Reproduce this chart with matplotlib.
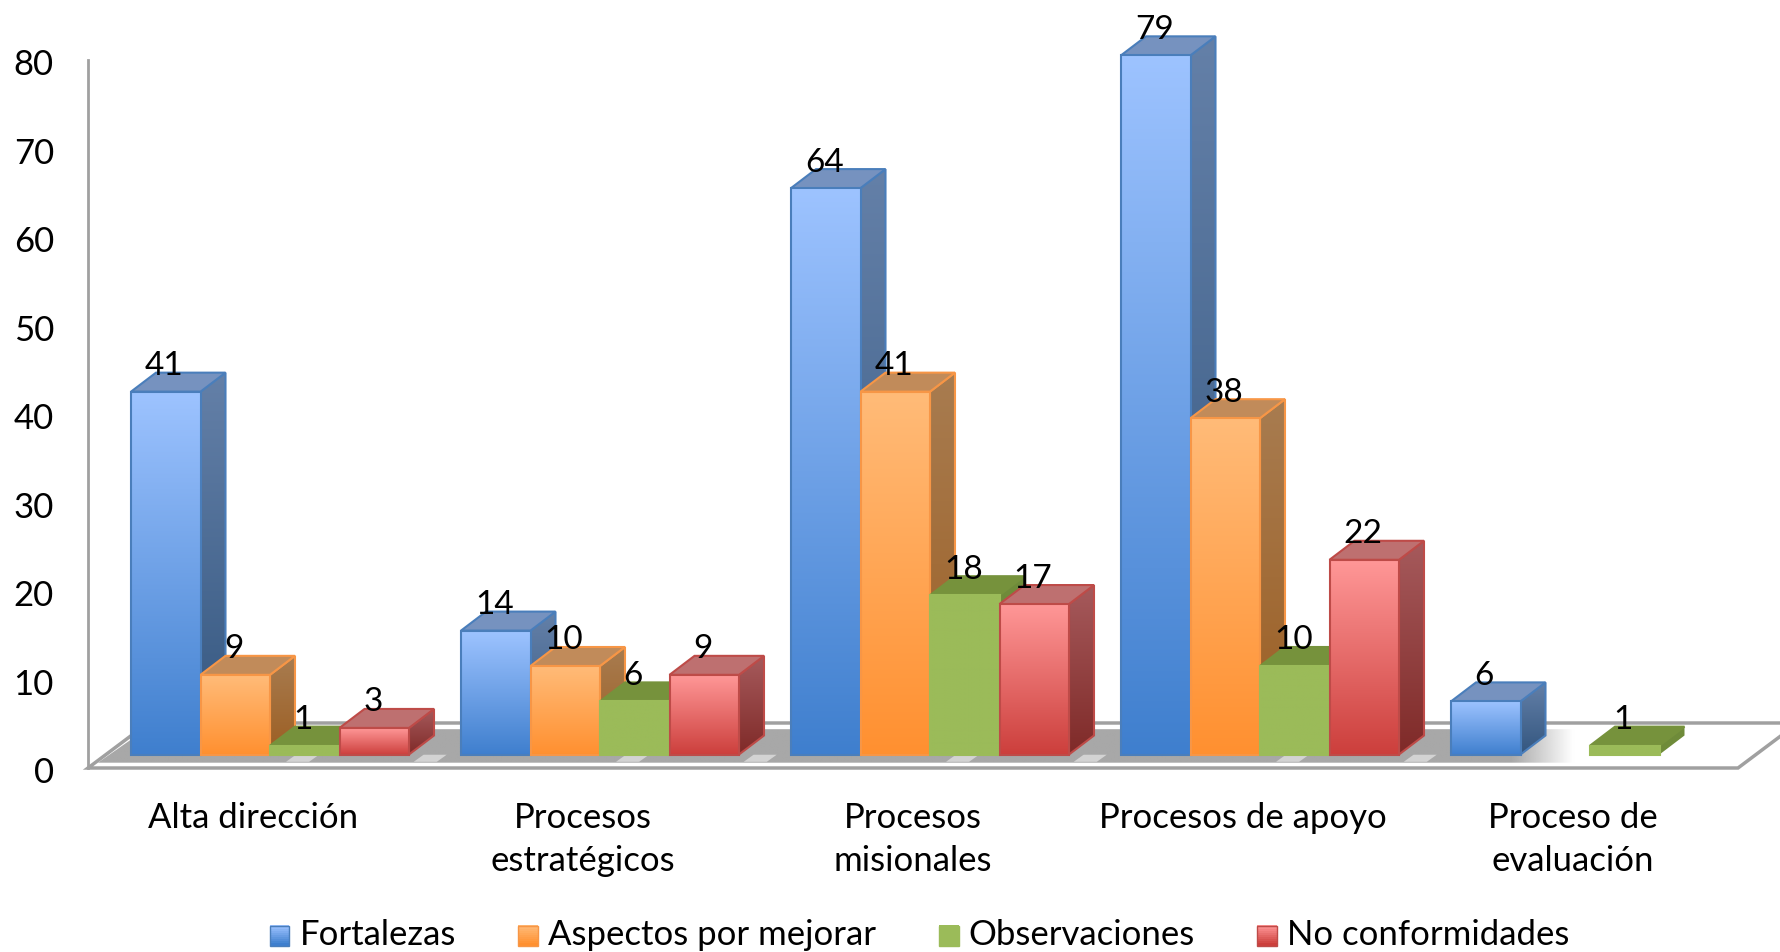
import numpy as np
import matplotlib.pyplot as plt
from matplotlib.colors import to_rgb
from matplotlib.legend_handler import HandlerBase
from matplotlib.patches import Polygon, Rectangle
from matplotlib.transforms import ScaledTranslation

plt.rcParams['font.family'] = ['Lato', 'DejaVu Sans']

categories = ['Alta dirección', 'Procesos\nestratégicos', 'Procesos\nmisionales',
              'Procesos de apoyo', 'Proceso de\nevaluación']
series_names = ['Fortalezas', 'Aspectos por mejorar', 'Observaciones', 'No conformidades']
fortalezas = [41, 14, 64, 79, 6]
aspectos = [9, 10, 41, 38, np.nan]
observaciones = [1, 6, 18, 10, 1]
no_conformidades = [3, 9, 17, 22, np.nan]
y_ticks = [0, 10, 20, 30, 40, 50, 60, 70, 80]

# front top, front bottom, side top, side bottom, top face, edge
styles = [
    ('#9DC3FF', '#3F7FCE', '#6480A8', '#33567F', '#7692BF', '#4A7EBB'),
    ('#FFBB78', '#FF9030', '#A87C50', '#9C5E22', '#C18B5A', '#F79646'),
    ('#9BBB59', '#9BBB59', '#6F8B3A', '#6F8B3A', '#76923C', '#9BBB59'),
    ('#FF9797', '#CC3F3C', '#A65A5C', '#7F2A28', '#BE7070', '#BE4B48'),
]
GREY = '#A0A0A0'


def gradient(ax, c1, c2, extent, clip, zorder):
    # vertical colour ramp, clipped to the face
    t = np.linspace(0, 1, 128)[:, None, None]
    img = (1 - t) * np.array(to_rgb(c1))[None, None, :] + t * np.array(to_rgb(c2))[None, None, :]
    im = ax.imshow(img, extent=extent, aspect='auto', origin='upper', zorder=zorder,
                   interpolation='bilinear')
    im.set_clip_path(clip)
    return im


class GradientHandler(HandlerBase):
    def create_artists(self, legend, orig, xdescent, ydescent, width, height, fontsize, trans):
        c1, c2, edge = orig.get_gid().split(',')
        a, b = np.array(to_rgb(c1)), np.array(to_rgb(c2))
        size = height * 0.82
        y0 = ydescent - 1
        out = []
        n = 10
        for k in range(n):
            col = a + (b - a) * k / (n - 1)
            out.append(Rectangle((xdescent, y0 + size * (n - k - 1) / n), size, size / n + 0.3,
                                 fc=col, ec='none', transform=trans))
        out.append(Rectangle((xdescent, y0), size, size, fc='none', ec=edge, lw=1, transform=trans))
        return out


fig = plt.figure(figsize=(17.81, 9.53), dpi=100)
W, H = 1781, 953
ax = fig.add_axes([88 / W, 1 - 769 / H, 1650 / W, 769 / H])
ax.patch.set_alpha(0)

y_max = 769 / 8.85
ax.set_xlim(-0.5, 4.5)
ax.set_ylim(0, y_max)

# offset of the bars from the front plane of the floor
depth_x = 17 / 330
depth_y = 13.5 / 8.85
# bar depth
bar_dx = 25 / 330
bar_dy = 19 / 8.85
# floor depth
floor_dx = 60 / 330
floor_dy = 45 / 8.85
bar_w = 69.5 / 330

# floor
floor = Polygon([(-0.5, 0), (4.5, 0), (4.5 + floor_dx, floor_dy), (-0.5 + floor_dx, floor_dy)],
                closed=True, fc='white', ec=GREY, lw=2.5, zorder=1, clip_on=False)
ax.add_patch(floor)

# grey shadow on the floor, fades out on the right
shade = np.ones((4, 400, 4))
shade[:, :, :3] = to_rgb('#A8A8A8')
xs = np.linspace(0, 1, 400)
shade[:, :, 3] = np.clip((0.85 - xs) / 0.035, 0, 1)
shadow_clip = Polygon([(-0.47, 0.6), (4.5, 0.6), (4.5 + floor_dx * 0.8, floor_dy - 0.7),
                       (-0.47 + floor_dx * 0.8, floor_dy - 0.7)], closed=True,
                      transform=ax.transData, fc='none', ec='none')
ax.add_patch(shadow_clip)
im = ax.imshow(shade, extent=(-0.5, 4.8, 0.6, floor_dy - 0.7), aspect='auto', zorder=2,
               interpolation='bilinear')
im.set_clip_path(shadow_clip)

# light glints along the front of the shadow
for i in range(len(categories)):
    for off in (0.15, 0.537):
        if i + off > 4:
            continue
        ax.add_patch(Polygon([(i + off - 0.05, 0.7), (i + off + 0.02, 0.7), (i + off + 0.05, 1.5), (i + off - 0.02, 1.5)],
                             closed=True, fc='white', ec='none', alpha=0.5, zorder=3))

values = [fortalezas, aspectos, observaciones, no_conformidades]
z = 5
for i in range(len(categories)):
    for s, vals in enumerate(values):
        v = vals[i]
        if np.isnan(v):
            continue
        c_top, c_bot, side_top, side_bot, top_col, edge = styles[s]
        left = i + depth_x + (s - 2) * bar_w
        right = left + bar_w
        base = depth_y
        top = base + v

        # side face
        side = Polygon([(right, base), (right + bar_dx, base + bar_dy), (right + bar_dx, top + bar_dy), (right, top)],
                       closed=True, fc='none', ec=edge if s != 2 else 'none', lw=1.5, zorder=z + 1)
        ax.add_patch(side)
        gradient(ax, side_top, side_bot, (right, right + bar_dx, base, top + bar_dy), side, z)

        # top face
        ax.add_patch(Polygon([(left, top), (right, top), (right + bar_dx, top + bar_dy), (left + bar_dx, top + bar_dy)],
                             closed=True, fc=top_col, ec=edge if s != 2 else top_col, lw=1.5, zorder=z + 1))

        # front face
        bars = ax.bar(left, v, width=bar_w, bottom=base, align='edge', fc='none', ec=edge, lw=1.5, zorder=z + 3)
        gradient(ax, c_top, c_bot, (left, right, base, top), bars[0], z + 2)
        z += 4

# data labels, on top of all bars
for i in range(len(categories)):
    for s, vals in enumerate(values):
        v = vals[i]
        if np.isnan(v):
            continue
        ax.text(i + depth_x + (s - 2) * bar_w + bar_w / 2 - 0.004, depth_y + v + 3.0, str(v), ha='center', va='center',
                fontsize=24, color='black', zorder=1000)

ax.set_xlim(-0.5, 4.5)
ax.set_ylim(0, y_max)

ax.spines['top'].set_visible(False)
ax.spines['right'].set_visible(False)
ax.spines['bottom'].set_visible(False)
ax.spines['left'].set_color(GREY)
ax.spines['left'].set_linewidth(2)
ax.spines['left'].set_bounds(0, 80)

ax.set_xticks(range(len(categories)))
ax.set_xticklabels(categories, fontsize=25, linespacing=1.42)
ax.set_yticks(y_ticks)
ax.tick_params(axis='x', length=0, pad=24)
ax.tick_params(axis='y', length=0, pad=24.5, labelsize=25)
for lab in ax.get_yticklabels():
    lab.set_transform(lab.get_transform() + ScaledTranslation(0, -0.9 / 72, fig.dpi_scale_trans))

handles = []
for name, st in zip(series_names, styles):
    r = Rectangle((0, 0), 1, 1, label=name)
    r.set_gid(','.join([st[0], st[1], st[5]]))
    handles.append(r)
fig.legend(handles=handles, handler_map={Rectangle: GradientHandler()}, loc='lower center',
           bbox_to_anchor=(919.5 / W, -0.031), ncol=4, frameon=False, fontsize=25, handlelength=0.58,
           handletextpad=0.28, columnspacing=1.8)

fig.savefig('out.png', dpi=100)
